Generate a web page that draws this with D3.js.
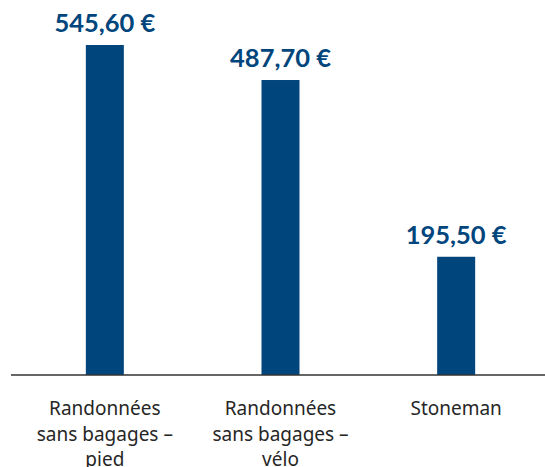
<!DOCTYPE html>
<html>
<head>
<meta charset="utf-8">
<script src="https://cdn.jsdelivr.net/npm/d3@7"></script>
<style>
  body { margin: 0; background: #fff; }
</style>
</head>
<body>
<svg id="chart" width="545" height="467"></svg>
<script>
var categories = [
    ["Randonnées", "sans bagages –", "pied"],
    ["Randonnées", "sans bagages –", "vélo"],
    ["Stoneman"]
];
var values = [545.60, 487.70, 195.50];
var valueLabels = ["545,60 €", "487,70 €", "195,50 €"];

var width = 545, height = 467;
var baseline = 375, barWidth = 38;

var svg = d3.select("#chart");

var x = d3.scaleBand()
    .domain(d3.range(values.length))
    .range([17, 544]);

var y = d3.scaleLinear()
    .domain([0, 545.6])
    .range([baseline, 45]);

var bars = svg.selectAll("g.bar")
    .data(values)
    .enter().append("g")
    .attr("class", "bar");

bars.append("rect")
    .attr("x", function(d, i) { return x(i) + x.bandwidth() / 2 - barWidth / 2; })
    .attr("y", function(d) { return y(d); })
    .attr("width", barWidth)
    .attr("height", function(d) { return baseline - y(d); })
    .attr("fill", "#00457c");

bars.append("text")
    .attr("x", function(d, i) { return x(i) + x.bandwidth() / 2; })
    .attr("y", function(d) { return y(d) - 13; })
    .attr("text-anchor", "middle")
    .style("font-family", "Lato, sans-serif")
    .style("font-size", "25.5px")
    .style("font-weight", "bold")
    .attr("fill", "#00457c")
    .text(function(d, i) { return valueLabels[i]; });

// baseline
svg.append("line")
    .attr("x1", 11).attr("x2", width)
    .attr("y1", baseline).attr("y2", baseline)
    .attr("stroke", "#333")
    .attr("stroke-width", 1.5);

// category labels
var labels = svg.selectAll("text.cat")
    .data(categories)
    .enter().append("text")
    .attr("class", "cat")
    .attr("text-anchor", "middle")
    .style("font-family", "'Noto Sans', sans-serif")
    .style("font-size", "19px")
    .attr("fill", "#262626");

labels.selectAll("tspan")
    .data(function(d, i) { return d.map(function(t) { return {t: t, i: i}; }); })
    .enter().append("tspan")
    .attr("x", function(d) { return x(d.i) + x.bandwidth() / 2; })
    .attr("y", function(d, j) { return 415 + j * 25.5; })
    .text(function(d) { return d.t; });
</script>
</body>
</html>
